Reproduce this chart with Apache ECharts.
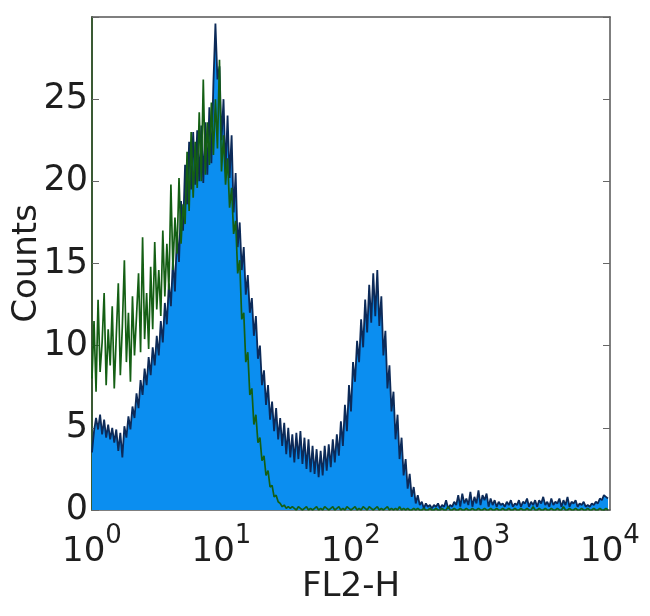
<!DOCTYPE html>
<html>
<head>
<meta charset="utf-8">
<script src="https://cdn.jsdelivr.net/npm/echarts@6/dist/echarts.min.js"></script>
<style>
html,body{margin:0;padding:0;background:#fff;}
#chart{width:650px;height:616px;}
</style>
</head>
<body>
<div id="chart"></div>
<script>
// 256 log-scaled channels spanning 10^0 .. 10^4 (64 channels per decade)
var xTickExponents = [0, 1, 2, 3, 4];
var yTicks = [0, 5, 10, 15, 20, 25];

// Stained sample (filled, blue)
var stainedCounts = [
3.5,4.8,5.6,4.9,5.8,4.6,5.5,4.4,5.2,4.3,
5.0,4.1,4.9,3.6,4.7,3.2,5.1,4.4,5.7,4.9,
6.3,5.6,7.1,6.2,7.9,7.0,8.6,7.6,9.3,8.2,
9.9,8.8,10.6,9.4,11.5,10.2,12.6,11.3,13.8,12.4,
15.2,13.3,16.9,15.1,18.8,17.0,21.0,18.6,22.4,19.5,
23.0,19.8,23.1,20.0,23.4,19.9,23.6,20.4,24.5,21.1,
26.0,29.6,26.2,27.0,22.5,25.0,20.6,24.0,20.2,22.8,
18.1,20.5,16.0,17.5,14.6,16.0,13.1,14.3,12.0,12.9,
10.6,11.8,9.2,10.0,7.6,8.5,6.4,7.6,5.5,6.6,
4.8,6.2,4.3,5.6,3.9,5.3,3.4,5.0,3.2,4.6,
2.9,4.7,3.1,4.8,2.8,4.4,2.5,4.3,2.3,3.9,
2.2,3.7,2.0,3.6,2.1,3.9,2.4,4.0,2.6,4.3,
2.9,4.6,3.3,5.4,3.9,6.4,4.8,7.6,6.0,9.0,
7.8,10.3,9.0,11.6,9.9,12.8,10.8,13.7,11.4,14.4,
11.8,14.6,11.2,13.0,9.4,10.9,7.4,8.8,6.0,7.2,
4.3,5.8,3.1,4.4,2.1,3.1,1.3,2.2,0.8,1.4,
0.4,0.9,0.3,0.5,0.1,0.4,0.2,0.3,0.1,0.3,
0.2,0.4,0.1,0.3,0.2,0.6,0.1,0.3,0.2,0.5,
0.3,0.9,0.2,1.0,0.4,0.7,0.3,1.1,0.2,0.8,
0.4,1.2,0.3,0.9,0.6,1.0,0.2,0.7,0.3,0.6,
0.2,0.5,0.3,0.4,0.2,0.5,0.3,0.6,0.2,0.4,
0.3,0.6,0.2,0.5,0.4,0.7,0.2,0.5,0.3,0.6,
0.2,0.6,0.4,0.8,0.3,0.5,0.2,0.7,0.3,0.5,
0.4,0.7,0.2,0.6,0.3,0.8,0.2,0.5,0.4,0.6,
0.2,0.4,0.3,0.5,0.2,0.3,0.2,0.4,0.3,0.5,
0.4,0.7,0.6,0.9,0.8,0.7
];

// Control sample (green line)
var controlCounts = [
8.0,11.5,7.2,12.8,8.4,10.2,13.2,7.6,11.0,8.8,
12.4,7.4,10.6,13.8,8.2,11.2,15.2,9.0,12.0,7.8,
13.0,9.4,11.8,14.4,9.6,16.6,10.4,13.2,9.8,14.8,
11.0,16.3,12.2,14.6,11.8,17.0,13.0,16.2,13.4,19.8,
14.6,17.8,15.6,20.2,16.2,18.6,17.4,21.8,18.2,23.0,
19.0,22.4,19.6,24.2,20.0,26.2,20.4,23.6,21.0,24.8,
21.6,25.0,22.0,27.4,20.6,22.8,19.8,21.4,18.4,19.6,
16.8,17.6,14.4,15.2,11.6,12.0,9.0,9.6,7.0,7.4,
5.2,5.8,4.1,4.4,3.0,3.3,2.1,2.4,1.4,1.5,
0.8,0.9,0.5,0.4,0.2,0.3,0.1,0.2,0.1,0.2,
0.1,0,0.2,0.1,0,0.1,0.2,0,0.1,0,
0.1,0.2,0,0.1,0,0.2,0.1,0,0.1,0.2,
0,0.1,0.2,0,0.1,0,0.2,0.1,0,0.1,
0.2,0,0.1,0,0.2,0.1,0,0.2,0.1,0,
0.1,0.2,0,0.1,0,0.1,0.2,0,0.1,0,
0.1,0,0.2,0,0.1,0,0.1,0,0,0.1,
0,0.1,0,0,0.1,0,0,0.1,0,0,
0.1,0,0,0.1,0,0,0.2,0,0,0.1,
0,0,0.1,0,0,0.1,0,0,0.1,0,
0,0.1,0,0,0.1,0,0,0.1,0,0,
0.1,0,0,0.1,0,0,0.1,0,0,0.1,
0,0,0.1,0,0,0.1,0,0,0.2,0,
0,0.1,0,0,0.1,0,0,0.1,0,0,
0.1,0,0,0.2,0,0,0.1,0,0,0.1,
0,0,0.1,0,0,0.1,0,0,0.1,0,
0,0.1,0,0,0.1,0
];

var toPairs = function (arr) { return arr.map(function (v, i) { return [i, v]; }); };

var FONT = 'DejaVu Sans';
var TXT = '#1e1e1e';
var chart = echarts.init(document.getElementById('chart'), null, {renderer: 'canvas'});
chart.setOption({
  animation: false,
  backgroundColor: '#fff',
  grid: {left: 92, right: 40, top: 17, bottom: 106, containLabel: false, outerBoundsMode: 'none'},
  xAxis: [{
    type: 'value', min: 0, max: 256, interval: 64, position: 'bottom',
    name: 'FL2-H', nameLocation: 'middle', nameGap: 60, nameMoveOverlap: false,
    nameTextStyle: {fontFamily: FONT, fontSize: 34, color: TXT},
    axisLine: {show: true, onZero: false, lineStyle: {color: '#555', width: 1.5}},
    axisTick: {show: false},
    splitLine: {show: false},
    axisLabel: {
      margin: 13,
      formatter: function (v) {
        var e = xTickExponents[Math.round(v / 64)];
        return '{b|10}{s|' + e + '}';
      },
      rich: {
        b: {fontFamily: FONT, fontSize: 34, color: TXT, verticalAlign: 'bottom', lineHeight: 46},
        s: {fontFamily: FONT, fontSize: 26, color: TXT, verticalAlign: 'top', lineHeight: 46}
      }
    }
  }, {
    type: 'value', min: 0, max: 256, interval: 64, position: 'top',
    axisLine: {show: true, onZero: false, lineStyle: {color: '#555', width: 1.5}},
    axisTick: {show: false}, axisLabel: {show: false}, splitLine: {show: false}
  }],
  yAxis: [{
    type: 'value', min: 0, max: 30, interval: 5, position: 'left',
    name: 'Counts', nameLocation: 'middle', nameGap: 48, nameRotate: 90, nameMoveOverlap: false,
    nameTextStyle: {fontFamily: FONT, fontSize: 34, color: TXT},
    axisLine: {show: true, onZero: false, lineStyle: {color: '#3a5a34', width: 2}},
    axisTick: {show: true, inside: true, length: 7, lineStyle: {color: '#666', width: 1}},
    splitLine: {show: false},
    axisLabel: {
      margin: 4, fontFamily: FONT, fontSize: 35, color: TXT,
      formatter: function (v) { return yTicks.indexOf(v) >= 0 ? String(v) : ''; }
    }
  }, {
    type: 'value', min: 0, max: 30, interval: 5, position: 'right',
    axisLine: {show: true, onZero: false, lineStyle: {color: '#555', width: 1.5}},
    axisTick: {show: true, inside: true, length: 7, lineStyle: {color: '#666', width: 1}},
    axisLabel: {show: false}, splitLine: {show: false}
  }],
  series: [{
    name: 'stained', type: 'line', xAxisIndex: 0, yAxisIndex: 0,
    data: toPairs(stainedCounts), showSymbol: false, symbol: 'none',
    lineStyle: {color: '#0c2a58', width: 1.8},
    areaStyle: {color: '#0b8ef0', opacity: 1},
    z: 2
  }, {
    name: 'control', type: 'line', xAxisIndex: 0, yAxisIndex: 0,
    data: toPairs(controlCounts), showSymbol: false, symbol: 'none',
    lineStyle: {color: '#145f14', width: 1.7},
    z: 3
  }]
});
</script>
</body>
</html>
